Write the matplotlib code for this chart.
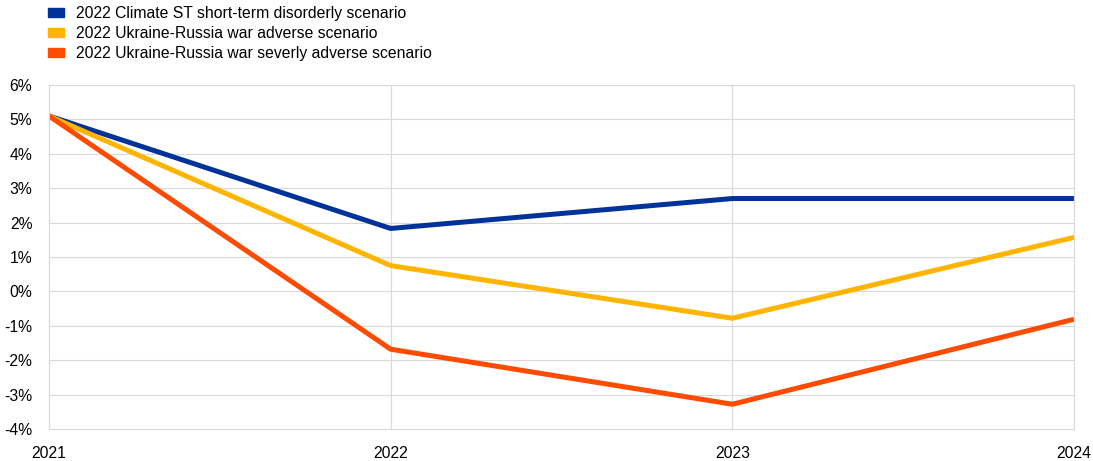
import matplotlib.pyplot as plt
import numpy as np
from matplotlib.patches import Patch

plt.rcParams['font.family'] = ['Liberation Sans', 'DejaVu Sans']

years = [2021, 2022, 2023, 2024]
climate = [5.1, 1.83, 2.7, 2.7]
adverse = [5.1, 0.75, -0.78, 1.57]
severe = [5.1, -1.68, -3.28, -0.81]
labels = ['2022 Climate ST short-term disorderly scenario',
          '2022 Ukraine-Russia war adverse scenario',
          '2022 Ukraine-Russia war severly adverse scenario']
colors = ['#003299', '#FFB400', '#FF4B00']

fig = plt.figure(figsize=(10.93, 4.61), dpi=100)
ax = fig.add_axes([0.0448, 0.0694, 0.9378, 0.7462])

for vals, lab, c in zip([climate, adverse, severe], labels, colors):
    ax.plot(years, vals, color=c, lw=3.6, label=lab, solid_capstyle='butt')

ax.set_xlim(2021, 2024)
ax.set_ylim(-4, 6)
ax.set_xticks(years)
ax.set_yticks(np.arange(-4, 7, 1))
ax.set_yticklabels([f'{v}%' for v in range(-4, 7)])
ax.grid(True, color='#d9d9d9', lw=0.8)
ax.set_axisbelow(True)
for s in ax.spines.values():
    s.set_color('#d9d9d9')
    s.set_linewidth(0.8)
ax.tick_params(length=0, labelsize=11.3, colors='black')
ax.tick_params(axis='x', pad=12)
ax.tick_params(axis='y', pad=12)

handles = [Patch(color=c) for c in colors]
fig.legend(handles, labels, loc='upper left', bbox_to_anchor=(0.031, 1.018),
           frameon=False, fontsize=11.3, handlelength=1.0, handleheight=0.5,
           handletextpad=0.8, labelspacing=0.32)

fig.savefig('out.png', dpi=100)
